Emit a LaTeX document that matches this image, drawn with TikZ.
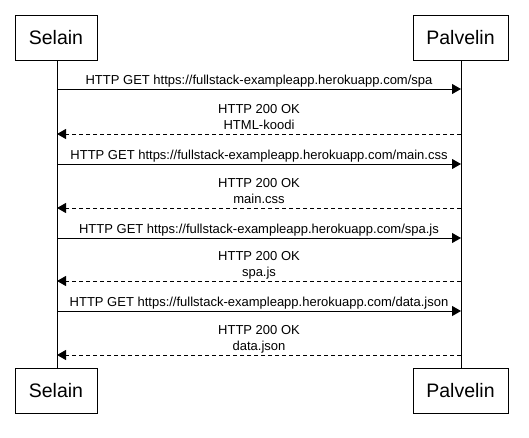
\documentclass[tikz,border=0pt]{standalone}
\usepackage{fontspec}
\setmainfont{Liberation Sans}
\usetikzlibrary{arrows.meta}
\begin{document}
\begin{tikzpicture}[x=1pt,y=-1pt,line width=1pt,
  actor/.style={draw,fill=white,minimum height=45pt,inner sep=0pt,font=\fontsize{19.5}{22}\selectfont},
  lifeline/.style={draw},
  req/.style={-{Triangle[length=9pt,width=10pt]}},
  resp/.style={-{Triangle[length=9pt,width=10pt]},dash pattern=on 4pt off 3pt},
  msg/.style={anchor=south,inner sep=0pt,text depth=0pt,align=center,font=\fontsize{13}{15.5}\selectfont,yshift=4.5pt}]
\useasboundingbox (0,0) rectangle (529,437);
\node[actor,minimum width=82pt] (s1) at (56,38) {Selain};
\node[actor,minimum width=95pt] (p1) at (460.5,38) {Palvelin};
\node[actor,minimum width=82pt] (s2) at (56,390.5) {Selain};
\node[actor,minimum width=95pt] (p2) at (460.5,390.5) {Palvelin};
\draw[lifeline] (s1.south -| 57,0) coordinate (sl1) -- (s2.north -| 57,0) coordinate (sl2);
\draw[lifeline] (p1.south -| 461,0) coordinate (pl1) -- (p2.north -| 461,0) coordinate (pl2);
% messages
\foreach \y/\n in {89/a,134/b,164/c,208/d,238/e,281/f,311/g,355/h}{
  \coordinate (s\n) at (57,\y);
  \coordinate (p\n) at (461,\y);
}
\draw[req] (sa) -- node[msg] (la) {HTTP GET https://fullstack-exampleapp.herokuapp.com/spa} (pa);
\draw[resp] (pb) -- node[msg] (lb) {HTTP 200 OK\\HTML-koodi} (sb);
\draw[req] (sc) -- node[msg] (lc) {HTTP GET https://fullstack-exampleapp.herokuapp.com/main.css} (pc);
\draw[resp] (pd) -- node[msg] (ld) {HTTP 200 OK\\main.css} (sd);
\draw[req] (se) -- node[msg] (le) {HTTP GET https://fullstack-exampleapp.herokuapp.com/spa.js} (pe);
\draw[resp] (pf) -- node[msg] (lf) {HTTP 200 OK\\spa.js} (sf);
\draw[req] (sg) -- node[msg] (lg) {HTTP GET https://fullstack-exampleapp.herokuapp.com/data.json} (pg);
\draw[resp] (ph) -- node[msg] (lh) {HTTP 200 OK\\data.json} (sh);
\end{tikzpicture}
\end{document}
